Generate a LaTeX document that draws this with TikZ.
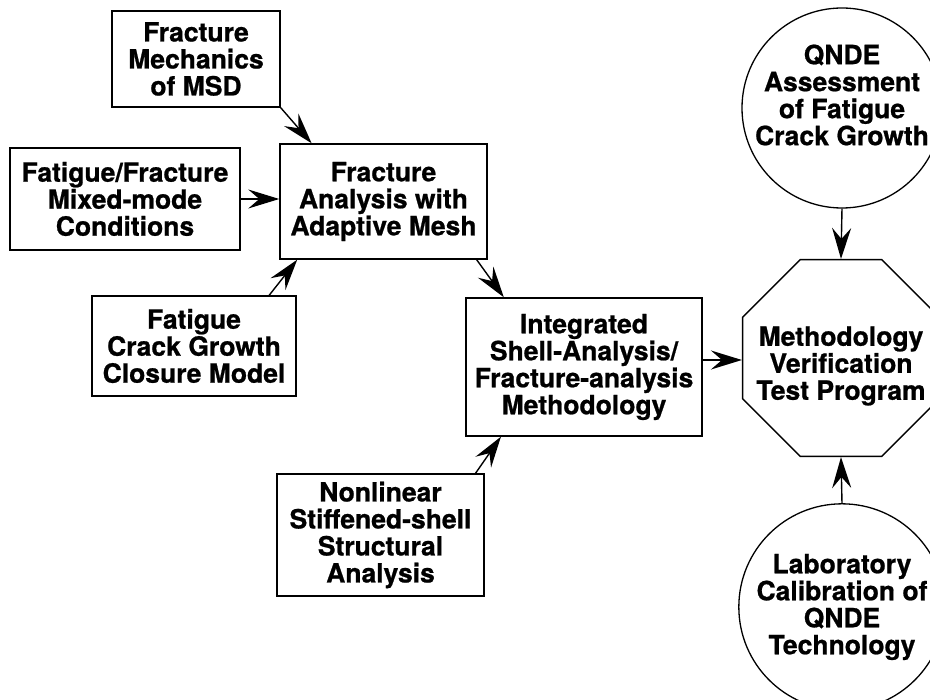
\documentclass[tikz,border=0pt]{standalone}
\usepackage{fontspec}
\setmainfont{TeX Gyre Heros}[BoldFeatures={FakeBold=0.8}]
\usepackage{tikz}
\usetikzlibrary{arrows.meta}
\usetikzlibrary{shapes.geometric}

\begin{document}
\begin{tikzpicture}[x=1pt,y=-1pt,
  every node/.style={font=\fontsize{26.5}{27}\selectfont\bfseries,align=center,inner sep=2pt},
  box/.style={draw=black,line width=1.4pt,rectangle},
  ring/.style={draw=black,line width=1.3pt,circle,minimum size=200pt},
  arr/.style={line width=1.4pt,-{Stealth[length=31pt,width=19pt,inset=11pt]}}]
\path[use as bounding box,clip] (0,0) rectangle (930,700);
\node[box,minimum width=168pt,minimum height=96pt] (msd) at (196,59) {Fracture\\Mechanics\\of MSD};
\node[box,minimum width=230pt,minimum height=102pt] (mixed) at (125,199) {Fatigue/Fracture\\Mixed-mode\\Conditions};
\node[box,minimum width=207pt,minimum height=115pt] (adaptive) at (383.5,201.5) {Fracture\\Analysis with\\Adaptive Mesh};
\node[box,minimum width=204pt,minimum height=100pt] (closure) at (194,346) {Fatigue\\Crack Growth\\Closure Model};
\node[box,minimum width=236pt,minimum height=138pt] (integrated) at (584,367) {Integrated\\Shell-Analysis/\\Fracture-analysis\\Methodology};
\node[box,minimum width=207pt,minimum height=122pt] (nonlinear) at (380.5,535) {Nonlinear\\Stiffened-shell\\Structural\\Analysis};
\node[draw=black,line width=1.3pt,regular polygon,regular polygon sides=8,minimum size=213pt,inner sep=0pt] (verify) at (841,358) {};
\node (verifytext) at (841,366) {Methodology\\Verification\\Test Program};
\node[ring] (qnde) at (842,108) {};
\node (qndetext) at (842,95) {QNDE\\Assessment\\of Fatigue\\Crack Growth};
\node[ring] (lab) at (842,607) {Laboratory\\Calibration of\\QNDE\\Technology};

\draw[arr] (msd.south east) -- (adaptive.141);
\draw[arr] (mixed.east) -- (mixed.east -| adaptive.west);
\draw[arr] (closure.34) -- (adaptive.214);
\draw[arr] (adaptive.-32) -- (integrated.139);
\draw[arr] (nonlinear.33) -- (integrated.220);
\draw[arr] ([yshift=7pt]integrated.east) -- ([yshift=7pt]integrated.east -| verify.west);
\draw[arr] (qnde.south) -- (verify.north);
\draw[arr] (lab.north) -- (verify.south);
\end{tikzpicture}
\end{document}
